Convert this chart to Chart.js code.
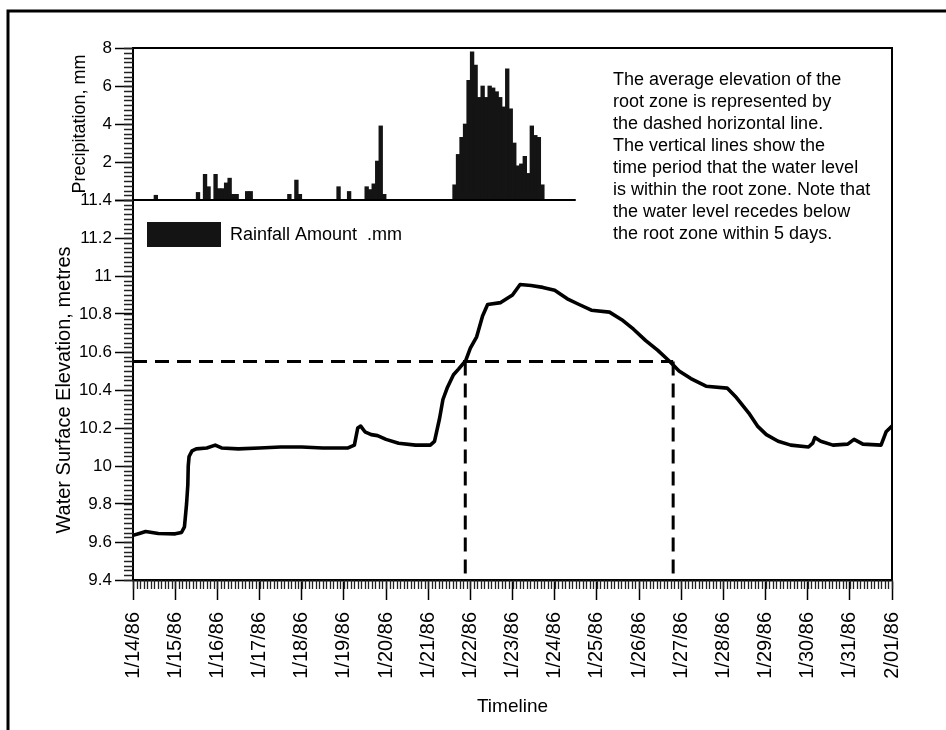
<!DOCTYPE html>
<html>
<head>
<meta charset="utf-8">
<title>Water Surface Elevation and Rainfall, January 1986</title>
<script src="https://cdn.jsdelivr.net/npm/chart.js@4.4.1/dist/chart.umd.min.js"></script>
<style>
  html, body { margin: 0; padding: 0; background: #fff; }
  #wrap { position: relative; width: 946px; height: 730px; }
</style>
</head>
<body>
<div id="wrap"><canvas id="chart" width="946" height="730"></canvas></div>
<script>
// x axis is in days since 1/14/86 00:00
const dateLabels = ['1/14/86', '1/15/86', '1/16/86', '1/17/86', '1/18/86', '1/19/86', '1/20/86',
    '1/21/86', '1/22/86', '1/23/86', '1/24/86', '1/25/86', '1/26/86', '1/27/86', '1/28/86',
    '1/29/86', '1/30/86', '1/31/86', '2/01/86'];

// water surface elevation trace
const levelDay = [0, 0.15, 0.3, 0.45, 0.6, 1.0, 1.15, 1.22, 1.27, 1.3,
    1.31, 1.33, 1.4, 1.5, 1.75, 1.95, 2.1, 2.5, 3.0, 3.5,
    4.0, 4.5, 5.1, 5.25, 5.33, 5.4, 5.5, 5.65, 5.8, 6.0,
    6.3, 6.7, 7.05, 7.15, 7.27, 7.35, 7.45, 7.6, 7.72, 7.89,
    8.0, 8.15, 8.29, 8.41, 8.72, 9.0, 9.18, 9.44, 9.72, 10.0,
    10.3, 10.58, 10.87, 11.3, 11.59, 11.87, 12.16, 12.44, 12.73, 12.95,
    13.23, 13.59, 14.09, 14.31, 14.6, 14.81, 15.02, 15.3, 15.6, 16.02,
    16.12, 16.17, 16.31, 16.6, 16.95, 17.1, 17.31, 17.74, 17.86, 18.0];
const levelM = [9.635, 9.645, 9.655, 9.65, 9.645, 9.643, 9.65, 9.68, 9.8, 9.9,
    10.0, 10.05, 10.08, 10.09, 10.095, 10.11, 10.095, 10.09, 10.095, 10.1,
    10.1, 10.095, 10.095, 10.11, 10.2, 10.21, 10.18, 10.165, 10.16, 10.14,
    10.12, 10.11, 10.11, 10.13, 10.25, 10.35, 10.41, 10.48, 10.51, 10.555,
    10.62, 10.68, 10.79, 10.85, 10.86, 10.9, 10.955, 10.95, 10.94, 10.925,
    10.88, 10.85, 10.82, 10.81, 10.77, 10.72, 10.66, 10.61, 10.55, 10.5,
    10.46, 10.42, 10.41, 10.36, 10.28, 10.21, 10.165, 10.13, 10.11, 10.1,
    10.12, 10.15, 10.13, 10.11, 10.115, 10.14, 10.115, 10.11, 10.18, 10.21];

// 2-hourly rainfall, hour = middle of the 2 h period since 1/14/86 00:00
const rainHour = [13, 37, 41, 43, 47, 49, 51, 53, 55, 57, 59, 65, 67, 89, 93, 95,
    117, 123, 133, 135, 137, 139, 141, 143,
    183, 185, 187, 189, 191, 193, 195, 197, 199, 201, 203, 205, 207,
    209, 211, 213, 215, 217, 219, 221, 223, 225, 227, 229, 231, 233];
const rainMm = [0.25, 0.4, 1.35, 0.7, 1.35, 0.6, 0.6, 0.9, 1.15, 0.3, 0.3, 0.45, 0.45, 0.3, 1.05, 0.3,
    0.7, 0.45, 0.7, 0.55, 0.85, 2.05, 3.9, 0.3,
    0.8, 2.4, 3.3, 4.0, 6.3, 7.8, 7.1, 5.4, 6.0, 5.4, 6.0, 5.9, 5.7,
    5.4, 4.9, 6.9, 4.8, 3.0, 1.8, 1.9, 2.3, 1.4, 3.9, 3.4, 3.3, 0.8];

const elevTicks = [9.4, 9.6, 9.8, 10, 10.2, 10.4, 10.6, 10.8, 11, 11.2, 11.4];
const rainTicks = [0, 2, 4, 6, 8];

// average root zone elevation and the days the water level sits inside it
const rootZone = 10.55;
const inZoneFrom = 7.88;
const inZoneTo = 12.81;

const noteLines = [
    'The average elevation of the',
    'root zone is represented by',
    'the dashed horizontal line.',
    'The vertical lines show the',
    'time period that the water level',
    'is within the root zone. Note that',
    'the water level recedes below',
    'the root zone within 5 days.'
];

const FONT = "'Liberation Sans', Arial, Helvetica, sans-serif";
Chart.defaults.font.family = FONT;
Chart.defaults.color = '#000';

// frame, minor ticks, legend and the note
const extras = {
    id: 'extras',
    beforeDraw(chart) {
        const ctx = chart.ctx;
        ctx.save();
        ctx.fillStyle = '#fff';
        ctx.fillRect(0, 0, chart.width, chart.height);
        ctx.restore();
    },
    afterDraw(chart) {
        const { ctx, chartArea: a, scales: { x, yElev, yRain } } = chart;
        ctx.save();
        ctx.strokeStyle = '#000';

        // page frame (left and top)
        ctx.lineWidth = 3;
        ctx.beginPath();
        ctx.moveTo(8, chart.height);
        ctx.lineTo(8, 11);
        ctx.lineTo(chart.width, 11);
        ctx.stroke();

        // plot frame
        ctx.lineWidth = 2;
        ctx.beginPath();
        ctx.moveTo(a.left, a.top);
        ctx.lineTo(a.right, a.top);
        ctx.lineTo(a.right, a.bottom);
        ctx.stroke();
        const base = yRain.getPixelForValue(0);
        ctx.beginPath();
        ctx.moveTo(a.left, base);
        ctx.lineTo(x.getPixelForValue(10.5), base);
        ctx.stroke();

        // minor ticks
        ctx.lineWidth = 1.3;
        ctx.strokeStyle = '#222';
        ctx.beginPath();
        for (let i = 0; i <= 18 * 12; i++) {
            const px = Math.round(x.getPixelForValue(i / 12)) + 0.5;
            ctx.moveTo(px, a.bottom);
            ctx.lineTo(px, a.bottom + 9);
        }
        for (let i = 0; i <= 80; i++) {
            const py = Math.round(yElev.getPixelForValue(9.4 + i * 0.025)) + 0.5;
            ctx.moveTo(a.left - 9, py);
            ctx.lineTo(a.left, py);
        }
        for (let i = 0; i <= 32; i++) {
            const py = Math.round(yRain.getPixelForValue(i * 0.25)) + 0.5;
            ctx.moveTo(a.left - 9, py);
            ctx.lineTo(a.left, py);
        }
        ctx.stroke();

        // legend
        const ds = chart.data.datasets[0];
        const ly = yElev.top + 22;
        ctx.fillStyle = ds.backgroundColor;
        ctx.fillRect(a.left + 14, ly, 74, 25);
        ctx.fillStyle = '#000';
        ctx.font = '18px ' + FONT;
        ctx.textBaseline = 'middle';
        ctx.fillText(ds.label, a.left + 97, ly + 13);

        // note
        noteLines.forEach((t, i) => ctx.fillText(t, 613, 80 + i * 22));
        ctx.restore();
    }
};

function pts(xs, ys) {
    return xs.map((v, i) => ({ x: v, y: ys[i] }));
}

const dashed = {
    type: 'line',
    yAxisID: 'yElev',
    borderColor: '#000',
    borderWidth: 3,
    borderDash: [14, 8],
    pointRadius: 0,
    fill: false
};

new Chart(document.getElementById('chart'), {
    data: {
        datasets: [{
            type: 'bar',
            label: 'Rainfall Amount  .mm',
            data: pts(rainHour.map(h => h / 24), rainMm),
            yAxisID: 'yRain',
            backgroundColor: '#141414',
            borderWidth: 0,
            barThickness: 3.7
        }, {
            type: 'line',
            label: 'Water surface elevation',
            data: pts(levelDay, levelM),
            yAxisID: 'yElev',
            borderColor: '#000',
            borderWidth: 3.6,
            borderJoinStyle: 'round',
            borderCapStyle: 'round',
            pointRadius: 0,
            tension: 0
        }, {
            ...dashed,
            label: 'Root zone',
            data: [{ x: 0, y: rootZone }, { x: inZoneTo, y: rootZone }]
        }, {
            ...dashed,
            label: 'Enters root zone',
            data: [{ x: inZoneFrom, y: rootZone }, { x: inZoneFrom, y: elevTicks[0] }]
        }, {
            ...dashed,
            label: 'Leaves root zone',
            data: [{ x: inZoneTo, y: rootZone }, { x: inZoneTo, y: elevTicks[0] }]
        }]
    },
    options: {
        responsive: false,
        animation: false,
        events: [],
        layout: { padding: { left: 40, right: 54, top: 48, bottom: 0 } },
        plugins: {
            legend: { display: false },
            tooltip: { enabled: false }
        },
        scales: {
            x: {
                type: 'linear',
                position: 'bottom',
                offset: false,
                min: 0,
                max: dateLabels.length - 1,
                afterBuildTicks: s => { s.ticks = dateLabels.map((_, i) => ({ value: i })); },
                ticks: {
                    callback: v => dateLabels[v],
                    autoSkip: false,
                    minRotation: 90,
                    maxRotation: 90,
                    padding: 12,
                    font: { size: 20 }
                },
                grid: { drawOnChartArea: false, offset: false, tickLength: 20, tickWidth: 1.5, tickColor: '#000' },
                border: { color: '#000', width: 2.5 },
                title: { display: true, text: 'Timeline', font: { size: 19 }, padding: { top: 0, bottom: 12 } },
                afterFit: s => { s.height = 150; }
            },
            yElev: {
                type: 'linear',
                position: 'left',
                stack: 'left',
                stackWeight: 380,
                min: elevTicks[0],
                max: elevTicks[elevTicks.length - 1],
                afterBuildTicks: s => { s.ticks = elevTicks.map(v => ({ value: v })); },
                ticks: { callback: v => String(+v.toFixed(1)), padding: 3, font: { size: 17 } },
                grid: { drawOnChartArea: false, tickLength: 18, tickWidth: 1.5, tickColor: '#000' },
                border: { color: '#000', width: 2 },
                title: {
                    display: true, text: 'Water Surface Elevation, metres',
                    font: { size: 20 }, padding: { top: 12, bottom: 0 }
                },
                afterFit: s => { s.width = 93; }
            },
            yRain: {
                type: 'linear',
                position: 'left',
                stack: 'left',
                stackWeight: 152,
                min: rainTicks[0],
                max: rainTicks[rainTicks.length - 1],
                afterBuildTicks: s => { s.ticks = rainTicks.map(v => ({ value: v })); },
                ticks: { callback: v => (v === 0 ? '' : String(v)), padding: 3, font: { size: 17 } },
                grid: { drawOnChartArea: false, tickLength: 18, tickWidth: 1.5, tickColor: '#000' },
                border: { color: '#000', width: 2 },
                title: {
                    display: true, text: 'Precipitation, mm',
                    font: { size: 18 }, padding: { top: 29, bottom: 0 }
                },
                afterFit: s => { s.width = 93; }
            }
        }
    },
    plugins: [extras]
});
</script>
</body>
</html>
